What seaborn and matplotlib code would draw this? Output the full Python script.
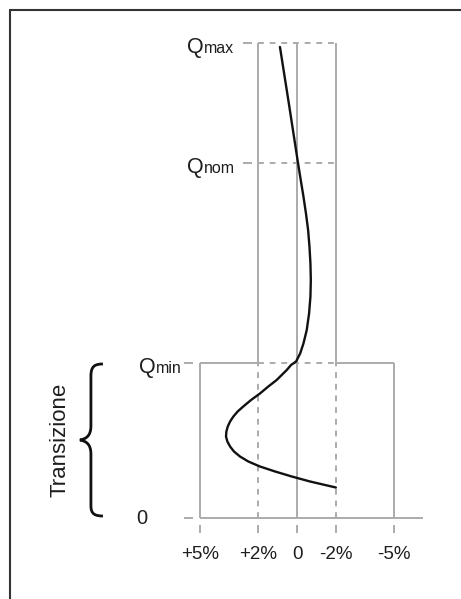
import matplotlib
matplotlib.use("Agg")
import matplotlib.pyplot as plt
import seaborn as sns
from matplotlib.path import Path
from matplotlib.patches import PathPatch
from matplotlib.lines import Line2D

# ---------------- data ----------------
x_ticks = [5, 2, 0, -2, -5]
x_labels = ["+5%", "+2%", "0", "-2%", "-5%"]
q_names = ["min", "nom", "max"]
q_values = [31, 71, 95]
band_inner = 2
band_outer = 5
# deviation curve (deviation %, flow)
curve_dev = [0.88, 0.41, -0.05, -0.19, -0.33, -0.46, -0.57, -0.64, -0.69, -0.71,
             -0.69, -0.62, -0.50, -0.33, -0.16, 0.05, 0.31, 0.53, 0.79, 1.05,
             1.48, 1.91, 2.37, 2.77, 3.06, 3.28, 3.45, 3.57, 3.64, 3.66,
             3.59, 3.45, 3.25, 2.94, 2.51, 1.91, 1.13, 0.27, -0.67, -2.00]
curve_q = [94.2, 82.6, 71.0, 67.6, 64.3, 60.9, 57.6, 54.3, 50.9, 47.6,
           44.3, 40.9, 37.6, 34.9, 32.9, 31.3, 30.6, 29.6, 28.6, 27.6,
           26.3, 24.9, 23.6, 22.3, 21.3, 20.3, 19.3, 18.3, 17.3, 16.3,
           15.3, 14.3, 13.3, 12.3, 11.3, 10.3, 9.3, 8.3, 7.3, 6.1]
side_label = "Transizione"

# ---------------- style ----------------
sns.set_theme(style="white")
plt.rcParams["font.family"] = ["Liberation Sans", "DejaVu Sans"]

gray = "#ababab"
ink = "#1e1e1e"

fig = plt.figure(figsize=(4.61, 5.99), dpi=100)
ax = fig.add_axes([200 / 461, (599 - 518) / 599, 223 / 461, 475 / 599])
ax.set_xlim(5, -6.49)
ax.set_ylim(0, 95)
ax.patch.set_alpha(0)
for s in ["top", "right", "left"]:
    ax.spines[s].set_visible(False)
ax.spines["bottom"].set_position(("outward", 5))
ax.spines["bottom"].set_visible(False)
ax.set_xticks(x_ticks, x_labels)
ax.set_yticks([])
ax.tick_params(axis="x", bottom=True, direction="out", length=5.8, width=1.4,
               color=gray, pad=9.5, labelsize=13.5, labelcolor=ink)

qmin, qnom, qmax = q_values
kw = dict(color=gray, lw=1.4, clip_on=False, zorder=1, solid_capstyle="butt")
dash = (0, (3, 3))
xr = ax.get_xlim()[1]

# baseline
ax.plot([band_outer, xr], [0, 0], **kw)
# tolerance boxes
for s in (1, -1):
    ax.plot([s * band_outer] * 2, [0, qmin], **kw)
    ax.plot([s * band_outer, s * band_inner], [qmin, qmin], **kw)
    ax.plot([s * band_inner] * 2, [0, qmin], ls=dash, **kw)
    ax.plot([s * band_inner] * 2, [qmin, qmax], **kw)
ax.plot([0, 0], [0, qmax], **kw)
for q in q_values:
    ax.plot([band_inner, -band_inner], [q, q], ls=dash, **kw)

# small y-tick dashes
for q in (qmax, qnom):
    ax.plot([band_inner + 0.78, band_inner + 0.32], [q, q], **kw)
for q in (qmin, 0):
    ax.plot([band_outer + 0.82, band_outer + 0.36], [q, q], **kw)

# y labels
def qlabel(x, y, sub):
    ax.annotate("Q", xy=(x, y), xytext=(0, -7.3), textcoords="offset points",
                ha="right", va="baseline", fontsize=15.5, color=ink,
                annotation_clip=False)
    ax.annotate(sub, xy=(x, y), xytext=(0.5, -7.3), textcoords="offset points",
                ha="left", va="baseline", fontsize=11.5, color=ink,
                annotation_clip=False)

qlabel(7.29, qmin, q_names[0])
qlabel(4.82, qnom, q_names[1])
qlabel(4.82, qmax, q_names[2])
ax.text(8.02, 0, "0", ha="center", va="center", fontsize=14.5, color=ink)

# curve
sns.lineplot(x=curve_dev, y=curve_q, sort=False, estimator=None, color="#111111",
             lw=1.7, ax=ax, zorder=3)

# brace
verts = [(10.0, 30.8), (10.41, 30.8), (10.62, 30.4), (10.62, 28.4),
         (10.62, 18.4),
         (10.62, 16.4), (10.88, 15.8), (11.19, 15.6),
         (10.88, 15.4), (10.62, 14.8), (10.62, 12.8),
         (10.62, 2.4),
         (10.62, 0.8), (10.41, 0.4), (10.0, 0.4)]
codes = [Path.MOVETO, Path.CURVE4, Path.CURVE4, Path.CURVE4,
         Path.LINETO,
         Path.CURVE4, Path.CURVE4, Path.CURVE4,
         Path.CURVE4, Path.CURVE4, Path.CURVE4,
         Path.LINETO,
         Path.CURVE4, Path.CURVE4, Path.CURVE4]
ax.add_patch(PathPatch(Path(verts, codes), fill=False, edgecolor="#111111",
                       lw=2.0, clip_on=False))
ax.text(12.19, 15.6, side_label, rotation=90, ha="center", va="center",
        fontsize=16, color=ink)

# figure frame (top and left visible)
fig.add_artist(Line2D([10 / 461, 1.0], [1 - 10 / 599] * 2, transform=fig.transFigure,
                      color="#333333", lw=1.5))
fig.add_artist(Line2D([10 / 461] * 2, [1 - 10 / 599, 0.0], transform=fig.transFigure,
                      color="#333333", lw=1.5))

fig.savefig("out.png", dpi=100)
